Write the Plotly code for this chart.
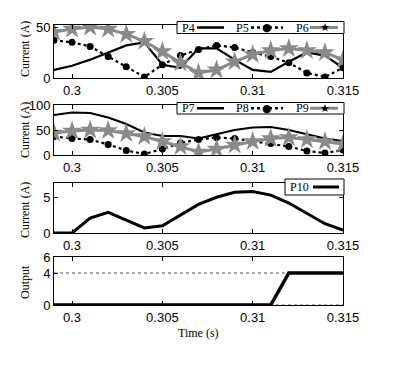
import plotly.graph_objects as go
from plotly.subplots import make_subplots

# ---- data ----
time_s = [0.299, 0.300, 0.301, 0.302, 0.303, 0.304, 0.305, 0.306, 0.307,
          0.308, 0.309, 0.310, 0.311, 0.312, 0.313, 0.314, 0.315]

p4 = [8, 12, 18, 25, 32, 35, 13, 10, 29, 29, 18, 8, 6, 16, 25, 22, 10]
p5 = [37, 35, 31, 21, 11, 1, 13, 22, 28, 32, 30, 25, 21, 15, 5, 1, 10]
p6 = [45, 48, 50, 48, 43, 36, 26, 15, 5, 8, 16, 23, 27, 29, 27, 25, 18]

p7 = [80, 85, 84, 75, 62, 45, 38, 38, 33, 42, 50, 55, 56, 50, 42, 33, 28]
p8 = [37, 33, 31, 21, 9, 2, 12, 24, 31, 35, 33, 28, 23, 17, 8, 4, 10]
p9 = [44, 48, 50, 49, 43, 37, 27, 17, 6, 12, 20, 27, 33, 35, 31, 27, 22]

p10 = [0, 0, 2.1, 2.9, 1.8, 0.7, 1.0, 2.5, 4.0, 5.0, 5.7, 5.8, 5.3, 4.2, 2.8, 1.3, 0.4]

t_out = [0.299, 0.311, 0.312, 0.315]
output = [0, 0, 4, 4]
t_ref = [0.299, 0.315]
ref_high = [4, 4]
ref_low = [0, 0]

x_ticks = [0.3, 0.305, 0.31, 0.315]
x_ticktext = ["0.3", "0.305", "0.31", "0.315"]

SERIF = "Liberation Serif"
SANS = "Liberation Sans"
GRAY = "#8a8a8a"

OFF = 8  # page body margin offset
W, H = 398.0 - OFF, 369.0 - OFF
ML = 54 - OFF
PR = 343 - OFF
MR = W - PR
PW = PR - ML

def px(x):
    return (x - OFF - ML) / PW

def py(y):
    return 1 - (y - OFF) / H

fig = make_subplots(rows=4, cols=1)

styles = {
    "solid": dict(mode="lines", line=dict(color="black", width=2.2)),
    "dot": dict(mode="lines+markers", line=dict(color="black", width=2.2, dash="dot"),
                marker=dict(symbol="circle", size=7, color="black")),
    "star": dict(mode="lines+markers", line=dict(color=GRAY, width=3),
                 marker=dict(symbol="star", size=15, color=GRAY)),
}

for row, series in [(1, [("P4", p4, "solid"), ("P5", p5, "dot"), ("P6", p6, "star")]),
                    (2, [("P7", p7, "solid"), ("P8", p8, "dot"), ("P9", p9, "star")])]:
    for name, y, st in series:
        fig.add_trace(go.Scatter(x=time_s, y=y, name=name, showlegend=False, **styles[st]),
                      row=row, col=1)

fig.add_trace(go.Scatter(x=time_s, y=p10, name="P10", mode="lines",
                         line=dict(color="black", width=3), showlegend=False), row=3, col=1)

fig.add_trace(go.Scatter(x=t_ref, y=ref_high, mode="lines", showlegend=False,
                         line=dict(color="#555555", width=1, dash="dot")), row=4, col=1)
fig.add_trace(go.Scatter(x=t_ref, y=ref_low, mode="lines", showlegend=False,
                         line=dict(color="#555555", width=1, dash="dot")), row=4, col=1)
fig.add_trace(go.Scatter(x=t_out, y=output, name="Output", mode="lines", showlegend=False,
                         line=dict(color="black", width=3.5)), row=4, col=1)

domains = [[py(78), py(25)], [py(155), py(105)], [py(233), py(183)], [py(305), py(257)]]
yranges = [[0, 52], [0, 100], [0, 7], [0, 6]]
yticks = [[0, 50], [0, 50, 100], [0, 5], [0, 4, 6]]

axis_common = dict(showline=True, linecolor="black", linewidth=1, mirror="allticks",
                   ticks="inside", ticklen=4, tickcolor="black", showgrid=False,
                   zeroline=False, automargin=False,
                   tickfont=dict(family=SANS, size=13, color="black"))

for i in range(4):
    xa = "xaxis" if i == 0 else f"xaxis{i+1}"
    ya = "yaxis" if i == 0 else f"yaxis{i+1}"
    fig.layout[xa].update(range=[0.299, 0.315], tickvals=x_ticks, ticktext=x_ticktext,
                          **axis_common)
    fig.layout[ya].update(domain=domains[i], range=yranges[i], tickvals=yticks[i],
                          **axis_common)

# ---- hand-drawn legends (text left of sample, like the original) ----
shapes = []
annots = []

def leg_text(x, y, txt):
    annots.append(dict(x=px(x), y=py(y), xref="paper", yref="paper", text=txt,
                       showarrow=False, xanchor="left", yanchor="middle",
                       font=dict(family=SERIF, size=12, color="black")))

def leg_line(x0, x1, y, color, width, dash="solid"):
    shapes.append(dict(type="line", xref="paper", yref="paper", x0=px(x0), x1=px(x1),
                       y0=py(y), y1=py(y), line=dict(color=color, width=width, dash=dash)))

def leg_glyph(x, y, g, color, size):
    annots.append(dict(x=px(x), y=py(y), xref="paper", yref="paper", text=g,
                       showarrow=False, xanchor="center", yanchor="middle",
                       font=dict(family="DejaVu Sans", size=size, color=color)))

def three_legend(top, bottom, names):
    shapes.append(dict(type="rect", xref="paper", yref="paper", x0=px(177), x1=px(344),
                       y0=py(bottom), y1=py(top), line=dict(color="black", width=1),
                       fillcolor="white", layer="above"))
    yc = (top + bottom) / 2
    leg_text(180, yc, names[0])
    leg_line(197, 224, yc, "black", 2.5)
    leg_text(234, yc, names[1])
    leg_line(251, 283, yc, "black", 2.5, "dot")
    leg_glyph(267, yc, "●", "black", 11)
    leg_text(294, yc, names[2])
    leg_line(310, 338, yc, GRAY, 3)
    leg_glyph(325, yc, "★", "black", 11)

three_legend(21.5, 33.5, ["P4", "P5", "P6"])
three_legend(102.5, 114, ["P7", "P8", "P9"])
# P10 legend
shapes.append(dict(type="rect", xref="paper", yref="paper", x0=px(285), x1=px(344),
                   y0=py(195), y1=py(179), line=dict(color="black", width=1),
                   fillcolor="white", layer="above"))
leg_text(288, 187, "P10")
leg_line(313, 339, 187, "black", 3)

# axis titles
for ycen, txt in [(49, "Current (A)"), (130, "Current (A)"), (210, "Current (A)"), (282, "Output")]:
    annots.append(dict(x=px(25), y=py(ycen), xref="paper", yref="paper", text=txt,
                       textangle=-90, showarrow=False, xanchor="center", yanchor="middle",
                       font=dict(family=SERIF, size=12, color="black")))
annots.append(dict(x=px(198), y=py(333), xref="paper", yref="paper", text="Time (s)",
                   showarrow=False, xanchor="center", yanchor="middle",
                   font=dict(family=SERIF, size=12, color="black")))

fig.update_layout(width=W, height=H,
                  margin=dict(l=ML, r=MR, t=0, b=0, pad=0, autoexpand=False),
                  plot_bgcolor="white", paper_bgcolor="white", showlegend=False,
                  shapes=shapes, annotations=annots)

fig.write_html("out.html")
